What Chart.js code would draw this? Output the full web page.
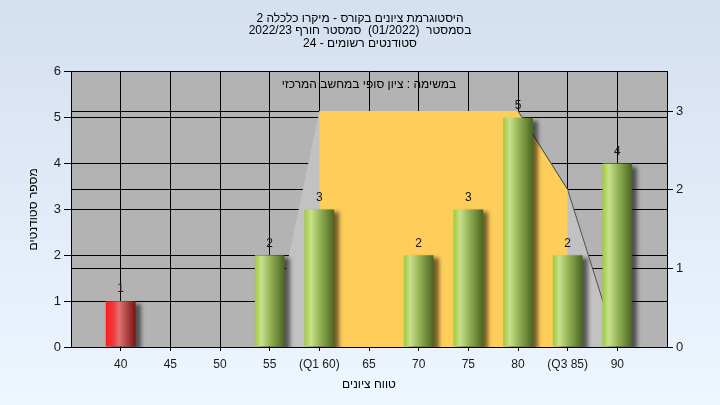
<!DOCTYPE html>
<html>
<head>
<meta charset="utf-8">
<script src="https://cdn.jsdelivr.net/npm/chart.js@4/dist/chart.umd.min.js"></script>
<style>
  html, body { margin: 0; padding: 0; }
  body { width: 720px; height: 405px; background: linear-gradient(#d4dff0, #eef6ff); }
  #wrap { width: 720px; height: 405px; }
</style>
</head>
<body>
<div id="wrap"><canvas id="chart"></canvas></div>
<script>
// grade histogram data
const grades = [40, 45, 50, 55, 60, 65, 70, 75, 80, 85, 90];
const students = [1, 0, 0, 2, 3, 0, 2, 3, 5, 2, 4];
const gradeLabels = ["40", "45", "50", "55", "(Q1 60)", "65", "70", "75", "80", "(Q3 85)", "90"];

// curve on right axis
const curveGrades = [55, 60, 65, 70, 75, 80, 85, 90];
const curveValues = [0, 3, 3, 3, 3, 3, 2, 0];
// Q1..Q3 band
const bandGrades = [60, 65, 70, 75, 80, 85];
const bandValues = [3, 3, 3, 3, 3, 2];

const leftTicks = [0, 1, 2, 3, 4, 5, 6];
const rightTicks = [0, 1, 2, 3];

const titleLines = [
  "היסטוגרמת ציונים בקורס - מיקרו כלכלה 2",
  "בסמסטר  (01/2022)  סמסטר חורף 2022/23",
  "סטודנטים רשומים - 24"
];
const innerNote = "במשימה : ציון סופי במחשב המרכזי";
const xTitle = "טווח ציונים";
const yTitle = "מספר סטודנטים";

const FONT = "'Liberation Sans', Arial, sans-serif";
const passMark = 55;

function barFill(c) {
  const chart = c.chart;
  const x = chart.scales.x;
  if (!x || c.dataIndex === undefined) return "#9c3";
  const mid = x.getPixelForValue(grades[c.dataIndex]);
  const half = x.width / 12 * 0.3;
  if (!isFinite(mid) || !isFinite(half) || half <= 0) return "#9c3";
  const g = chart.ctx.createLinearGradient(mid - half, 0, mid + half, 0);
  if (grades[c.dataIndex] < passMark) {
    g.addColorStop(0, "#ff1c1c");
    g.addColorStop(0.25, "#f03a3a");
    g.addColorStop(0.45, "#e07272");
    g.addColorStop(1, "#781212");
  } else {
    g.addColorStop(0, "#9ccb3a");
    g.addColorStop(0.22, "#c9e08d");
    g.addColorStop(0.5, "#97b658");
    g.addColorStop(1, "#4a6420");
  }
  return g;
}

const downEdge = c => c.p1.parsed.y < c.p0.parsed.y ? "#505050" : "rgba(0,0,0,0)";

const plotBg = {
  id: "plotBg",
  beforeDraw(chart) {
    const a = chart.chartArea;
    chart.ctx.save();
    chart.ctx.fillStyle = "#b3b3b3";
    chart.ctx.fillRect(a.left, a.top, a.right - a.left, a.bottom - a.top);
    chart.ctx.restore();
  }
};

const barShadow = {
  id: "barShadow",
  beforeDatasetDraw(chart, args) {
    if (args.index !== 0) return;
    const ctx = chart.ctx;
    ctx.save();
    ctx.shadowColor = "rgba(0,0,0,0.55)";
    ctx.shadowBlur = 4;
    ctx.shadowOffsetX = 5;
    ctx.shadowOffsetY = 3;
  },
  afterDatasetDraw(chart, args) {
    if (args.index !== 0) return;
    chart.ctx.restore();
  }
};

const texts = {
  id: "texts",
  afterDatasetsDraw(chart) {
    const ctx = chart.ctx;
    const a = chart.chartArea;
    ctx.save();
    ctx.font = "12px " + FONT;
    ctx.textAlign = "center";
    ctx.textBaseline = "middle";
    chart.getDatasetMeta(0).data.forEach((el, i) => {
      if (!students[i]) return;
      ctx.fillStyle = grades[i] < passMark ? "#4a1414" : "#141414";
      ctx.fillText(String(students[i]), el.x, el.y - 12);
    });
    ctx.fillStyle = "#000";
    ctx.fillText(innerNote, (a.left + a.right) / 2, a.top + 13);
    ctx.restore();
  }
};

const chart = new Chart(document.getElementById("chart"), {
  type: "bar",
  data: {
    datasets: [
      {
        data: grades.map((g, i) => ({ x: g, y: students[i] })),
        backgroundColor: barFill,
        borderWidth: 0,
        categoryPercentage: 1,
        barPercentage: 0.6,
        yAxisID: "y",
        order: 0
      },
      {
        type: "line",
        data: bandGrades.map((g, i) => ({ x: g, y: bandValues[i] })),
        yAxisID: "y2",
        fill: "origin",
        backgroundColor: "#fecd5a",
        borderWidth: 1,
        segment: { borderColor: downEdge },
        pointRadius: 0,
        tension: 0,
        order: 1
      },
      {
        type: "line",
        data: curveGrades.map((g, i) => ({ x: g, y: curveValues[i] })),
        yAxisID: "y2",
        fill: "origin",
        backgroundColor: "#c2c2c2",
        borderWidth: 1,
        segment: { borderColor: downEdge },
        pointRadius: 0,
        tension: 0,
        order: 2
      }
    ]
  },
  options: {
    responsive: true,
    maintainAspectRatio: false,
    animation: false,
    devicePixelRatio: 1,
    layout: { padding: 0 },
    plugins: {
      legend: { display: false },
      tooltip: { enabled: false },
      title: {
        display: true,
        text: titleLines,
        color: "#000",
        font: { family: FONT, size: 12, weight: "normal", lineHeight: 1.05 },
        padding: { top: 12, bottom: 22 }
      }
    },
    scales: {
      x: {
        type: "linear",
        min: 35,
        max: 95,
        offset: false,
        afterBuildTicks: s => { s.ticks = grades.map(v => ({ value: v })); },
        afterFit: s => { s.height = 58; },
        grid: { color: "#000", tickLength: 4, offset: false },
        border: { color: "#000" },
        ticks: {
          color: "#1a1a1a",
          font: { family: FONT, size: 12 },
          padding: 6,
          maxRotation: 0,
          autoSkip: false,
          callback: v => gradeLabels[grades.indexOf(v)] || ""
        },
        title: {
          display: true,
          text: xTitle,
          color: "#000",
          font: { family: FONT, size: 12 },
          padding: { top: 0, bottom: 13 }
        }
      },
      y: {
        position: "left",
        min: 0,
        max: 6,
        afterBuildTicks: s => { s.ticks = leftTicks.map(v => ({ value: v })); },
        afterFit: s => { s.width = 71; },
        grid: { color: "#000", tickLength: 7 },
        border: { color: "#000" },
        ticks: { color: "#1a1a1a", font: { family: FONT, size: 13 }, padding: 3 },
        title: {
          display: true,
          text: yTitle,
          color: "#000",
          font: { family: FONT, size: 12 },
          padding: { top: 26, bottom: 0 }
        }
      },
      y2: {
        position: "right",
        min: 0,
        max: 3.5,
        afterBuildTicks: s => { s.ticks = rightTicks.map(v => ({ value: v })); },
        afterFit: s => { s.width = 53; },
        grid: { color: "#000", tickLength: 6 },
        border: { color: "#000" },
        ticks: { color: "#1a1a1a", font: { family: FONT, size: 13 }, padding: 3 }
      }
    }
  },
  plugins: [plotBg, barShadow, texts]
});
// gradients need the laid-out scale
chart.update();
</script>
</body>
</html>
